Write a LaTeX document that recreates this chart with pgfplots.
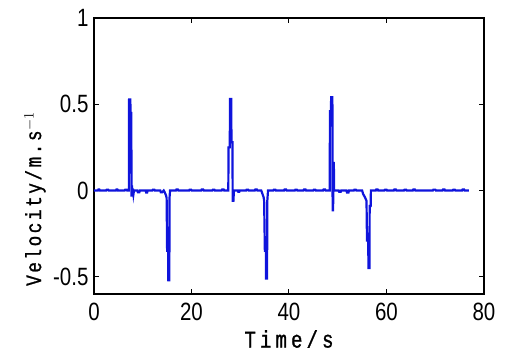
\documentclass[border=0pt]{standalone}
\usepackage{pgfplots}
\pgfplotsset{compat=1.18}
\usepackage{fontspec}
\setmainfont[FakeStretch=0.82]{Liberation Sans}
\newfontfamily\labfont[FakeStretch=0.8,FakeBold=1]{Liberation Mono}
\definecolor{sig}{RGB}{15,20,220}
\newcommand{\s}{\hspace{2.6bp}}
\begin{document}
\begin{tikzpicture}
\begin{axis}[
  name=ax, at={(0,0)}, anchor=south west,
  scale only axis, width=390bp, height=276bp,
  xmin=0, xmax=80, ymin=-0.6, ymax=1,
  xtick={0,20,40,60,80}, ytick={-0.5,0,0.5,1},
  tick align=inside, major tick length=5bp,
  tick style={black, line width=1bp},
  axis line style={black, line width=1.4bp},
  /pgf/number format/assume math mode=true,
  ticklabel style={font=\fontsize{25bp}{28bp}\selectfont},
  xticklabel style={yshift=-6bp},
  yticklabel style={xshift=-2bp},
  xlabel={\labfont T\,i\,m\,e\,/\,s},
  xlabel style={font=\fontsize{24bp}{26bp}\selectfont, at={(rel axis cs:0.5,0)}, anchor=center, yshift=-45bp},
  ylabel={\labfont V\s e\s l\s o\s c\s i\s t\s y\s /\s m\s .\s s$^{-1}$},
  ylabel style={font=\fontsize{22bp}{24bp}\selectfont, at={(rel axis cs:0,0.345)}, anchor=center, yshift=59bp},
]
\addplot[sig, line width=2.2bp] coordinates {
(0,0) (0.8,0) (0.9,0.006) (1.1,0.006) (1.2,0) (2.5,0) (2.6,0.005) (2.9,0.005) (3.0,0)
(4.5,0) (4.6,0.006) (4.8,0.006) (4.9,0) (6.3,0) (6.4,0.005) (6.7,0.005) (6.8,0)
(7.15,0) (7.2,0.527) (7.45,0.527) (7.5,0.45) (7.65,0.45) (7.7,-0.035) (7.8,0.03) (7.9,-0.03) (8.0,0.01) (8.1,-0.02) (8.2,0)
(8.9,0) (9.0,-0.01) (9.3,-0.01) (9.4,0) (10.6,0) (10.7,-0.012) (10.9,-0.012) (11.0,0)
(12.0,0) (12.1,0.005) (12.4,0.005) (12.5,0) (13.6,0) (13.7,-0.01) (14.0,-0.01) (14.3,0)
(14.5,-0.01) (14.8,-0.03) (14.9,-0.045) (15.0,-0.35) (15.2,-0.35) (15.25,-0.52) (15.45,-0.52) (15.5,-0.04) (15.6,0)
(16.8,0) (16.9,0.006) (17.2,0.006) (17.3,0) (19.5,0) (19.6,0.005) (19.9,0.005) (20.0,0)
(22.0,0) (22.1,0.006) (22.4,0.006) (22.5,0) (24.3,0) (24.4,0.005) (24.7,0.005) (24.8,0) (26.2,0) (26.3,0.006) (26.6,0.006) (26.7,0)
(27.55,0) (27.6,0.25) (27.85,0.25) (27.9,0.53) (28.15,0.53) (28.2,0.28) (28.4,0.28) (28.45,-0.06) (28.6,-0.06) (28.7,0)
(29.5,0) (29.6,-0.008) (29.8,-0.008) (29.9,0) (31.2,0) (31.3,0.005) (31.6,0.005) (31.7,0) (33.0,0) (33.1,0.006) (33.4,0.006) (33.5,0)
(34.3,0) (34.5,-0.015) (34.8,-0.04) (34.9,-0.06) (35.05,-0.35) (35.25,-0.35) (35.3,-0.51) (35.5,-0.51) (35.55,-0.06) (35.7,0)
(36.8,0) (36.9,0.005) (37.2,0.005) (37.3,0) (39.0,0) (39.1,0.006) (39.4,0.006) (39.5,0) (41.2,0) (41.3,0.005) (41.6,0.005) (41.7,0)
(43.0,0) (43.1,0.006) (43.4,0.006) (43.5,0) (45.0,0) (45.1,0.005) (45.4,0.005) (45.5,0) (47.0,0) (47.1,0.006) (47.4,0.006) (47.5,0)
(48.35,0) (48.4,0.46) (48.6,0.46) (48.65,0.54) (48.9,0.54) (48.95,-0.115) (49.05,-0.115) (49.1,0.16) (49.2,0.16) (49.25,0) 
(50.2,0) (50.3,-0.008) (50.6,-0.008) (50.7,0) (51.8,0) (51.9,-0.012) (52.2,-0.012) (52.3,0) (53.3,0) (53.4,0.005) (53.7,0.005) (53.8,0)
(55.0,0) (55.2,-0.02) (55.6,-0.04) (55.9,-0.06) (56.0,-0.29) (56.25,-0.29) (56.3,-0.45) (56.5,-0.45) (56.55,-0.09) (56.75,-0.09) (56.8,0)
(57.8,0) (57.9,0.006) (58.2,0.006) (58.3,0) (59.6,0) (59.7,0.005) (60.0,0.005) (60.1,0) (61.5,0) (61.6,0.006) (61.9,0.006) (62.0,0)
(63.6,0) (63.7,0.005) (64.0,0.005) (64.1,0) (65.4,0) (65.5,0.006) (65.8,0.006) (65.9,0) (69.5,0) (69.6,0.005) (70.0,0.005) (70.1,0)
(71.5,0) (71.6,0.006) (71.9,0.006) (72.0,0) (73.6,0) (73.7,0.005) (74.0,0.005) (74.1,0) (75.5,0) (75.6,0.006) (75.9,0.006) (76.0,0) (76.9,0)
};
\end{axis}
\path (-94bp,-62bp) rectangle (414bp,294bp);
\end{tikzpicture}
\end{document}
